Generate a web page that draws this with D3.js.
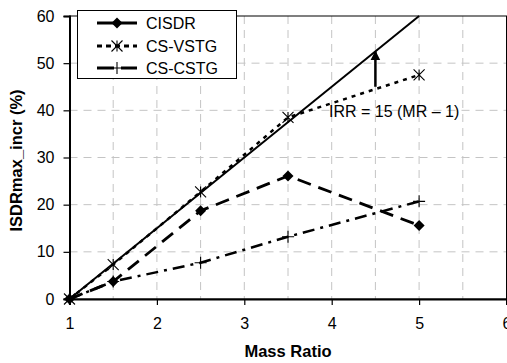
<!DOCTYPE html>
<html><head><meta charset="utf-8">
<script src="https://cdn.jsdelivr.net/npm/d3@7/dist/d3.min.js"></script>
<style>body{margin:0;background:#fff}svg{display:block}text{font-family:Arial,"Liberation Sans",sans-serif}</style>
</head><body>
<svg id="c" width="507" height="363"></svg>
<script>
const massRatio = [1, 1.5, 2.5, 3.5, 5];
const cisdr = [0, 3.7, 18.7, 26.1, 15.6];
const csVstg = [0, 7.3, 22.7, 38.5, 47.5];
const csCstg = [0, 3.7, 7.7, 13.2, 20.7];
const irrX = [1, 5];
const irrY = [0, 60];
const xTicks = [1, 2, 3, 4, 5, 6];
const yTicks = [0, 10, 20, 30, 40, 50, 60];
const xGrid = [1.5, 2, 2.5, 3, 3.5, 4, 4.5, 5, 5.5];
const yGrid = [10, 20, 30, 40, 50];
const seriesNames = ["CISDR", "CS-VSTG", "CS-CSTG"];
const annotation = "IRR = 15 (MR \u2013 1)";
const arrowFrom = [4.5, 45];
const arrowTo = [4.5, 52.5];

const svg = d3.select("#c");
const L = 69.5, R = 506.5, T = 16, B = 299;
const x = d3.scaleLinear().domain([1, 6]).range([L, R]);
const y = d3.scaleLinear().domain([0, 60]).range([B, T]);

svg.append("defs").append("marker").attr("id","ah").attr("viewBox","0 0 10 10")
  .attr("refX",9).attr("refY",5).attr("markerWidth",4).attr("markerHeight",4.5)
  .attr("orient","auto").append("path").attr("d","M0,0L10,5L0,10Z").attr("fill","#000");

// grid
const g = svg.append("g");
g.selectAll(".vg").data(xGrid).join("line").attr("x1",d=>x(d)).attr("x2",d=>x(d))
  .attr("y1",T).attr("y2",B).attr("stroke","#c4c4c4").attr("stroke-width",1).attr("stroke-dasharray","8,6");
g.selectAll(".hg").data(yGrid).join("line").attr("y1",d=>y(d)).attr("y2",d=>y(d))
  .attr("x1",L).attr("x2",R).attr("stroke","#c4c4c4").attr("stroke-width",1).attr("stroke-dasharray","8,6");

// frame
svg.append("rect").attr("x",L).attr("y",T).attr("width",R-L).attr("height",B-T)
  .attr("fill","none").attr("stroke","#000").attr("stroke-width",1);

// axes
const xa = svg.append("g").attr("transform",`translate(0,${B})`)
  .call(d3.axisBottom(x).tickValues(xTicks).tickFormat(d3.format("d")).tickSize(6).tickPadding(13));
const ya = svg.append("g").attr("transform",`translate(${L},0)`)
  .call(d3.axisLeft(y).tickValues(yTicks).tickFormat(d3.format("d")).tickSize(6).tickPadding(9));
[xa, ya].forEach(a => {
  a.select(".domain").attr("stroke","#000").attr("stroke-width",2);
  a.selectAll(".tick line").attr("stroke","#000").attr("stroke-width",1.2);
  a.selectAll("text").attr("font-size",16).attr("fill","#000").attr("font-family","Arial, 'Liberation Sans', sans-serif");
});

// titles
svg.append("text").attr("x",(L+R)/2).attr("y",357).attr("text-anchor","middle")
  .attr("font-weight","bold").attr("font-size",16.5).text("Mass Ratio");
svg.append("text").attr("transform",`translate(22,${(T+B)/2 + 3}) rotate(-90)`).attr("text-anchor","middle")
  .attr("font-weight","bold").attr("font-size",16.5).text("ISDRmax_incr (%)");

const line = d3.line().x(d=>x(d[0])).y(d=>y(d[1]));
const styles = [
  {dash:"14,8", w:2.8, data: cisdr},
  {dash:"4,5", w:2.5, data: csVstg},
  {dash:"12,6,3,6", w:2.5, data: csCstg}
];

// IRR line
svg.append("path").attr("d", line(d3.zip(irrX, irrY))).attr("fill","none").attr("stroke","#000").attr("stroke-width",2);

// series lines
[2,1,0].forEach(i => {
  svg.append("path").attr("d", line(d3.zip(massRatio, styles[i].data))).attr("fill","none")
    .attr("stroke","#000").attr("stroke-width",styles[i].w).attr("stroke-dasharray",styles[i].dash);
});

function marker(sel, type, cx, cy) {
  if (type === 0) {
    sel.append("path").attr("d",`M${cx},${cy-5.5}L${cx+5.5},${cy}L${cx},${cy+5.5}L${cx-5.5},${cy}Z`).attr("fill","#000");
  } else if (type === 1) {
    const s = 5.5;
    sel.append("path").attr("d",`M${cx-s},${cy-s}L${cx+s},${cy+s}M${cx-s},${cy+s}L${cx+s},${cy-s}M${cx},${cy-s}L${cx},${cy+s}`)
      .attr("stroke","#000").attr("stroke-width",1.1).attr("fill","none");
  } else {
    const s = 6;
    sel.append("path").attr("d",`M${cx-s},${cy}L${cx+s},${cy}M${cx},${cy-s}L${cx},${cy+s}`)
      .attr("stroke","#000").attr("stroke-width",1.1).attr("fill","none");
  }
}
[2,1,0].forEach(i => {
  const mg = svg.append("g");
  massRatio.forEach((m, j) => marker(mg, i, x(m), y(styles[i].data[j])));
});

// arrow & annotation
svg.append("line").attr("x1",x(arrowFrom[0])).attr("y1",y(arrowFrom[1]))
  .attr("x2",x(arrowTo[0])).attr("y2",y(arrowTo[1])).attr("stroke","#000").attr("stroke-width",2.5)
  .attr("marker-end","url(#ah)");
svg.append("text").attr("x",329).attr("y",117).attr("font-size",16).text(annotation);

// legend
const lg = svg.append("g");
lg.append("rect").attr("x",77.5).attr("y",10.5).attr("width",159).attr("height",68)
  .attr("fill","#fff").attr("stroke","#000").attr("stroke-width",1);
const rowsY = [23, 46, 68];
const legDash = ["40", "5,4", "17,7,40"];
seriesNames.forEach((n, i) => {
  lg.append("line").attr("x1",97).attr("x2",137).attr("y1",rowsY[i]).attr("y2",rowsY[i])
    .attr("stroke","#000").attr("stroke-width",2.8).attr("stroke-dasharray", legDash[i]);
  marker(lg, i, 117, rowsY[i]);
  lg.append("text").attr("x",146).attr("y",rowsY[i]+6).attr("font-size",16).text(n);
});
</script>
</body></html>
